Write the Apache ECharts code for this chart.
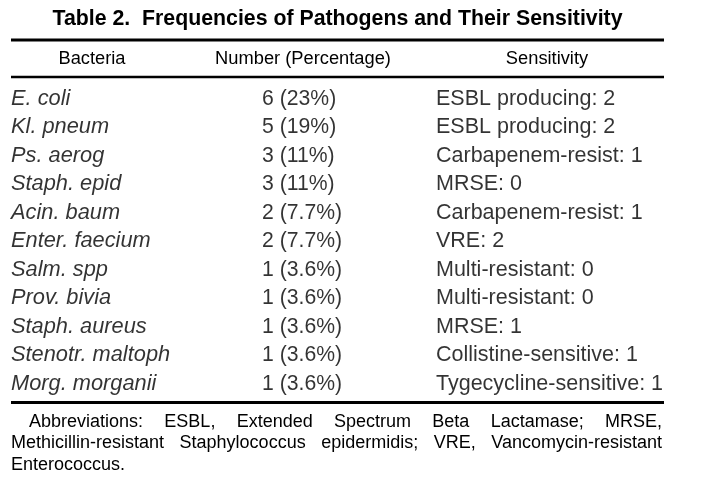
<!DOCTYPE html>
<html>
<head>
<meta charset="utf-8">
<script src="https://cdn.jsdelivr.net/npm/echarts@6/dist/echarts.min.js"></script>
<style>
html,body{margin:0;padding:0;background:#fff;}
#chart{width:717px;height:477px;}
</style>
</head>
<body>
<div id="chart"></div>
<script>
// ---- data ----
const tableTitle = 'Table 2.  Frequencies of Pathogens and Their Sensitivity';
const headers = ['Bacteria', 'Number (Percentage)', 'Sensitivity'];
const bacteria = ['E. coli', 'Kl. pneum', 'Ps. aerog', 'Staph. epid', 'Acin. baum', 'Enter. faecium',
  'Salm. spp', 'Prov. bivia', 'Staph. aureus', 'Stenotr. maltoph', 'Morg. morganii'];
const counts = [6, 5, 3, 3, 2, 2, 1, 1, 1, 1, 1];
const percents = ['23%', '19%', '11%', '11%', '7.7%', '7.7%', '3.6%', '3.6%', '3.6%', '3.6%', '3.6%'];
const sensitivityTypes = ['ESBL producing', 'ESBL producing', 'Carbapenem-resist', 'MRSE', 'Carbapenem-resist',
  'VRE', 'Multi-resistant', 'Multi-resistant', 'MRSE', 'Collistine-sensitive', 'Tygecycline-sensitive'];
const sensitivityCounts = [2, 2, 1, 0, 1, 2, 0, 0, 1, 1, 1];
const footnoteLines = [
  'Abbreviations: ESBL, Extended Spectrum Beta Lactamase; MRSE,',
  'Methicillin-resistant Staphylococcus epidermidis; VRE, Vancomycin-resistant',
  'Enterococcus.'
];

// ---- layout / style ----
const FONT = '"Liberation Sans", Arial, Helvetica, sans-serif';
const TL = 11, TR = 664;
const colLefts = [11, 262, 436];
const headerCenters = [92, 303, 547];
const bodySizes = [21.8, 21.2, 21.5];

const chart = echarts.init(document.getElementById('chart'), null, {renderer: 'canvas'});

const cellText = [
  bacteria,
  counts.map((c, i) => c + ' (' + percents[i] + ')'),
  sensitivityTypes.map((s, i) => s + ': ' + sensitivityCounts[i])
];

const grids = [], xAxes = [], yAxes = [], series = [];
colLefts.forEach((left, ci) => {
  grids.push({left: left, width: 200, top: 84.5, height: 313.5, containLabel: false});
  xAxes.push({type: 'value', gridIndex: ci, min: 0, max: 1, show: false});
  yAxes.push({type: 'category', gridIndex: ci, data: bacteria, inverse: true, show: false});
  series.push({
    type: 'scatter', xAxisIndex: ci, yAxisIndex: ci, symbolSize: 0, silent: true,
    data: bacteria.map((b, i) => [0, b, cellText[ci][i]]),
    label: {
      show: true, position: 'right', distance: 0,
      formatter: p => p.data[2],
      color: '#000', fontFamily: FONT, fontSize: bodySizes[ci],
      fontStyle: ci === 0 ? 'italic' : 'normal'
    }
  });
});

// footnote justification
const measureCtx = document.createElement('canvas').getContext('2d');
const footSize = 18;
measureCtx.font = footSize + 'px ' + FONT;
const footY = [422, 443.5, 465];
const footStarts = [29, 11, 11];
const footGraphics = [];
footnoteLines.forEach((line, li) => {
  const words = line.split(' ');
  const widths = words.map(w => measureCtx.measureText(w).width);
  const total = widths.reduce((a, b) => a + b, 0);
  const justify = li < footnoteLines.length - 1 && words.length > 1;
  const gap = justify ? (TR - 2 - footStarts[li] - total) / (words.length - 1) : measureCtx.measureText(' ').width;
  let x = footStarts[li];
  words.forEach((w, wi) => {
    footGraphics.push({type: 'text', x: x, y: footY[li], silent: true,
      style: {text: w, fill: '#000', font: footSize + 'px ' + FONT, textAlign: 'left', textVerticalAlign: 'middle'}});
    x += widths[wi] + gap;
  });
});

const graphics = [
  {type: 'text', x: (TL + TR) / 2, y: 19.5, silent: true,
    style: {text: tableTitle, fill: '#000', font: 'bold 21.3px ' + FONT, textAlign: 'center', textVerticalAlign: 'middle'}},
  {type: 'line', silent: true, shape: {x1: TL, y1: 40, x2: TR, y2: 40}, style: {stroke: '#000', lineWidth: 3}},
  {type: 'line', silent: true, shape: {x1: TL, y1: 77, x2: TR, y2: 77}, style: {stroke: '#000', lineWidth: 2.5}},
  {type: 'line', silent: true, shape: {x1: TL, y1: 402.5, x2: TR, y2: 402.5}, style: {stroke: '#000', lineWidth: 3}}
];
headers.forEach((h, i) => {
  graphics.push({type: 'text', x: headerCenters[i], y: 59, silent: true,
    style: {text: h, fill: '#000', font: '18.3px ' + FONT, textAlign: 'center', textVerticalAlign: 'middle'}});
});

chart.setOption({
  backgroundColor: '#fff',
  animation: false,
  grid: grids,
  xAxis: xAxes,
  yAxis: yAxes,
  series: series,
  graphic: graphics.concat(footGraphics)
});
</script>
</body>
</html>
